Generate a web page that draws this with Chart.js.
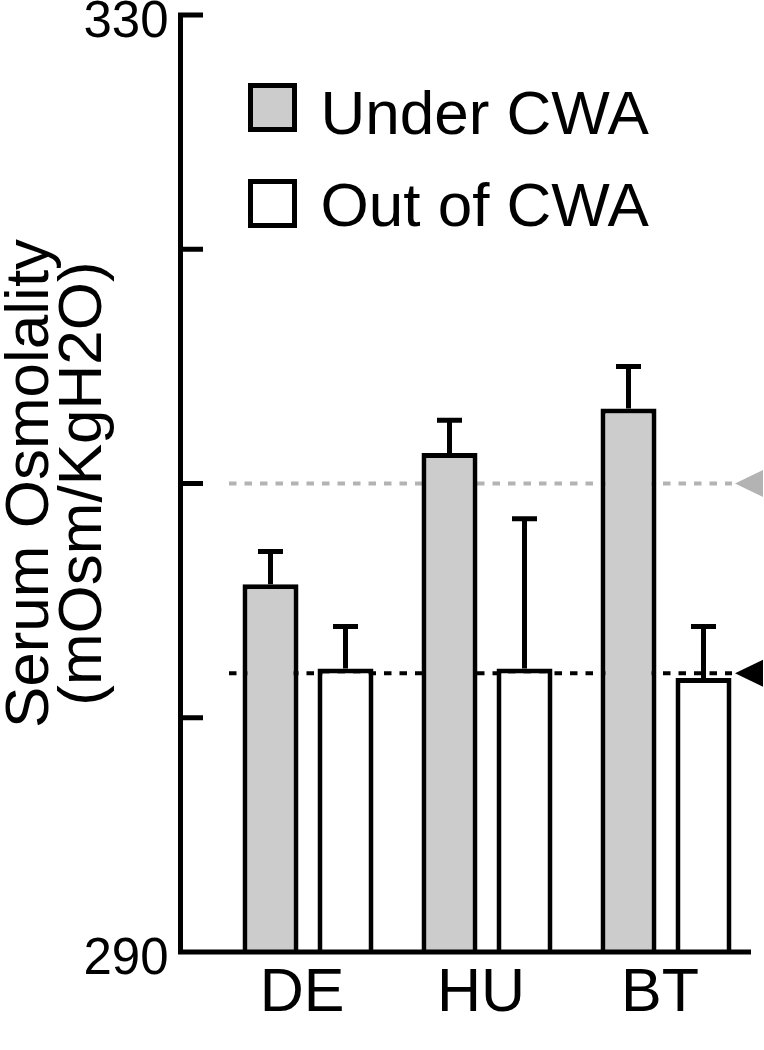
<!DOCTYPE html>
<html><head><meta charset="utf-8">
<script src="https://cdn.jsdelivr.net/npm/chart.js@4/dist/chart.umd.min.js"></script>
<style>html,body{margin:0;padding:0;background:#fff}canvas{display:block}</style>
</head><body>
<canvas id="c" width="764" height="1050"></canvas>
<script>
// ---- data ----
const categories = ['DE', 'HU', 'BT'];
const seriesNames = ['Under CWA', 'Out of CWA'];
const underCWA = [305.7, 311.3, 313.2];
const outCWA = [302.1, 302.1, 301.7];
const underErr = [1.4, 1.4, 1.8];
const outErr = [1.8, 6.4, 2.2];
const refLines = [310, 301.9];
const refColors = ['#b3b3b3', '#000000'];
const yTickLabels = [290, 330];
const yAxisTitle = ['Serum Osmolality', '(mOsm/KgH2O)'];

Chart.defaults.font.family = "'Liberation Sans', Arial, sans-serif";
Chart.defaults.color = '#000';

const refLinePlugin = {
  id: 'refLines',
  beforeDatasetsDraw(chart) {
    const {ctx, chartArea} = chart;
    const y = chart.scales.y;
    refLines.forEach((v, i) => {
      const py = y.getPixelForValue(v);
      ctx.save();
      ctx.strokeStyle = refColors[i];
      ctx.lineWidth = 4;
      ctx.setLineDash([7.5, 8]);
      ctx.beginPath();
      ctx.moveTo(chartArea.left + 10.5, py);
      ctx.lineTo(chartArea.right - 23.5, py);
      ctx.stroke();
      ctx.setLineDash([]);
      ctx.fillStyle = refColors[i];
      ctx.beginPath();
      ctx.moveTo(chartArea.right - 20.5, py);
      ctx.lineTo(chartArea.right + 7.5, py - 13.5);
      ctx.lineTo(chartArea.right + 7.5, py + 13.5);
      ctx.closePath();
      ctx.fill();
      ctx.restore();
    });
  }
};

const errorBarPlugin = {
  id: 'errorBars',
  afterDatasetsDraw(chart) {
    const {ctx} = chart;
    const y = chart.scales.y;
    chart.data.datasets.forEach((ds, di) => {
      const meta = chart.getDatasetMeta(di);
      meta.data.forEach((el, i) => {
        const top = y.getPixelForValue(ds.data[i]);
        const ep = y.getPixelForValue(ds.data[i] + ds.errors[i]);
        ctx.save();
        ctx.strokeStyle = '#000';
        ctx.lineWidth = 5;
        ctx.beginPath();
        ctx.moveTo(el.x, top);
        ctx.lineTo(el.x, ep);
        ctx.moveTo(el.x - 12.5, ep);
        ctx.lineTo(el.x + 12.5, ep);
        ctx.stroke();
        ctx.restore();
      });
    });
  }
};

const axisPlugin = {
  id: 'axes',
  afterDatasetsDraw(chart) {
    const {ctx, chartArea} = chart;
    const y = chart.scales.y;
    const ax = chartArea.left - 38;
    const yTop = y.getPixelForValue(y.max);
    const yBot = y.getPixelForValue(y.min);
    ctx.save();
    ctx.strokeStyle = '#000';
    ctx.lineWidth = 5;
    ctx.beginPath();
    ctx.moveTo(ax, yTop - 2.5);
    ctx.lineTo(ax, yBot + 2.5);
    ctx.moveTo(ax - 2.5, yBot);
    ctx.lineTo(chartArea.right - 4.5, yBot);
    y.ticks.forEach(t => {
      const p = y.getPixelForValue(t.value);
      ctx.moveTo(ax, p);
      ctx.lineTo(ax + 22.5, p);
    });
    ctx.stroke();
    ctx.restore();
  }
};

const legendPlugin = {
  id: 'customLegend',
  afterDraw(chart) {
    const {ctx, chartArea} = chart;
    const boxTops = [68, 164];
    const baselines = [119, 211];
    chart.data.datasets.forEach((ds, i) => {
      const bx = chartArea.left + 29.5;
      const by = chartArea.top + boxTops[i];
      ctx.save();
      ctx.fillStyle = ds.backgroundColor;
      ctx.fillRect(bx, by, 49, 49);
      ctx.strokeStyle = '#000';
      ctx.lineWidth = 5;
      ctx.strokeRect(bx + 2.5, by + 2.5, 44, 44);
      ctx.fillStyle = '#000';
      ctx.font = "62px 'Liberation Sans', Arial, sans-serif";
      ctx.textBaseline = 'alphabetic';
      ctx.textAlign = 'left';
      ctx.fillText(ds.label, chartArea.left + 102, chartArea.top + baselines[i]);
      ctx.restore();
    });
  }
};

new Chart(document.getElementById('c'), {
  type: 'bar',
  data: {
    labels: categories,
    datasets: [
      {label: seriesNames[0], data: underCWA, errors: underErr, backgroundColor: '#cccccc',
       borderColor: '#000', borderWidth: 5, borderSkipped: 'start'},
      {label: seriesNames[1], data: outCWA, errors: outErr, backgroundColor: '#ffffff',
       borderColor: '#000', borderWidth: 5, borderSkipped: 'start'}
    ]
  },
  options: {
    responsive: false,
    animation: false,
    devicePixelRatio: 1,
    categoryPercentage: 0.838,
    barPercentage: 0.7467,
    layout: {padding: {top: 15, right: 8.5, bottom: 0, left: 0}},
    plugins: {legend: {display: false}, tooltip: {enabled: false}},
    scales: {
      x: {
        grid: {display: false, drawTicks: false},
        border: {display: false},
        ticks: {font: {size: 61}, color: '#000', padding: 6, labelOffset: -6, maxRotation: 0, autoSkip: false},
        afterFit(s) { s.height = 98; s.paddingLeft = 0; s.paddingRight = 0; }
      },
      y: {
        min: 290, max: 330,
        grid: {display: false, drawTicks: false},
        border: {display: false},
        ticks: {stepSize: 10, font: {size: 51}, color: '#000', padding: 50, labelOffset: 8,
                callback: v => yTickLabels.includes(v) ? String(v) : ''},
        title: {display: true, text: yAxisTitle, color: '#000',
                font: {size: 62, lineHeight: 0.855}, padding: {top: 4.5, bottom: 0}},
        afterFit(s) { s.width = 218.5; s.paddingTop = 0; s.paddingBottom = 0; }
      }
    }
  },
  plugins: [refLinePlugin, errorBarPlugin, axisPlugin, legendPlugin]
});
</script>
</body></html>
